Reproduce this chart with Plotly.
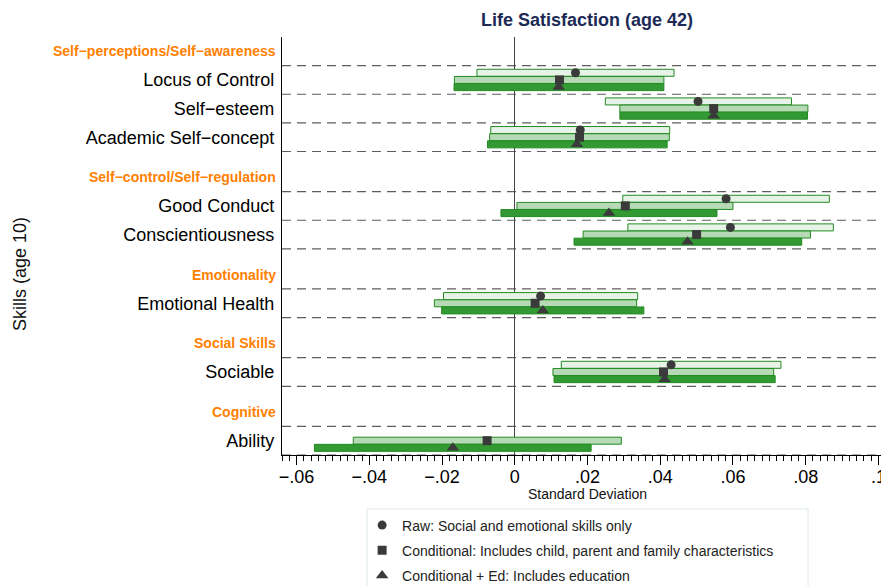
"""Life satisfaction at 42 vs. childhood skills: coefficient bars with CIs."""

import plotly.graph_objects as go

# --- data -------------------------------------------------------------------
groups = [
    "Self−perceptions/Self−awareness",
    "Self−control/Self−regulation",
    "Emotionality",
    "Social Skills",
    "Cognitive",
]
group_skills = [
    ["Locus of Control", "Self−esteem", "Academic Self−concept"],
    ["Good Conduct", "Conscientiousness"],
    ["Emotional Health"],
    ["Sociable"],
    ["Ability"],
]

# Raw model (no estimate for Ability)
raw_est = [0.0167, 0.0504, 0.0180, 0.0581, 0.0593, 0.0071, 0.0430, None]
raw_lo = [-0.0104, 0.0249, -0.0066, 0.0297, 0.0311, -0.0196, 0.0128, None]
raw_hi = [0.0438, 0.0761, 0.0426, 0.0865, 0.0876, 0.0338, 0.0732, None]

cond_est = [0.0123, 0.0547, 0.0178, 0.0304, 0.0500, 0.0056, 0.0409, -0.0076]
cond_lo = [-0.0166, 0.0289, -0.0069, 0.0006, 0.0188, -0.0221, 0.0105, -0.0444]
cond_hi = [0.0410, 0.0806, 0.0425, 0.0600, 0.0813, 0.0335, 0.0712, 0.0293]

ed_est = [0.0121, 0.0547, 0.0171, 0.0259, 0.0475, 0.0077, 0.0412, -0.0170]
ed_lo = [-0.0167, 0.0289, -0.0075, -0.0038, 0.0163, -0.0201, 0.0108, -0.0551]
ed_hi = [0.0410, 0.0805, 0.0419, 0.0556, 0.0789, 0.0355, 0.0716, 0.0210]

x_ticks = [-0.06, -0.04, -0.02, 0, 0.02, 0.04, 0.06, 0.08, 0.1]
x_tick_labels = ["−.06", "−.04", "−.02", "0", ".02", ".04", ".06", ".08", ".1"]

legend_names = [
    "Raw: Social and emotional skills only",
    "Conditional: Includes child, parent and family characteristics",
    "Conditional + Ed: Includes education",
]

# --- layout of rows (one unit per row, small gap between groups) -------------
GAP = 0.4
skills, skill_y, header_y, dividers = [], [], [], []
pos = 0.0
for gi, names in enumerate(group_skills):
    if gi > 0:
        pos += GAP
    header_y.append(pos + 0.5)
    pos += 1
    dividers.append(pos)
    for name in names:
        skills.append(name)
        skill_y.append(pos + 0.5)
        pos += 1
        dividers.append(pos)
y_bottom = pos

FONT = "Liberation Sans, Arial, Helvetica, sans-serif"
LINE_GREEN = "#228b22"
series = [
    (raw_est, raw_lo, raw_hi, -0.25, "#e8f3e8", "circle", legend_names[0]),
    (cond_est, cond_lo, cond_hi, 0.0, "#b5dab5", "square", legend_names[1]),
    (ed_est, ed_lo, ed_hi, 0.25, "#339a33", "triangle-up", legend_names[2]),
]

fig = go.Figure()

for est, lo, hi, off, fill, symbol, name in series:
    idx = [i for i in range(len(skills)) if est[i] is not None]
    fig.add_trace(go.Bar(
        y=[skill_y[i] + off for i in idx],
        x=[hi[i] - lo[i] for i in idx],
        base=[lo[i] for i in idx],
        orientation="h",
        width=0.245,
        marker=dict(color=fill, line=dict(color=LINE_GREEN, width=1)),
        showlegend=False,
        hoverinfo="skip",
    ))

for k, (est, lo, hi, off, fill, symbol, name) in enumerate(series):
    idx = [i for i in range(len(skills)) if est[i] is not None]
    fig.add_trace(go.Scatter(
        x=[est[i] for i in idx],
        y=[skill_y[i] + off for i in idx],
        mode="markers",
        marker=dict(symbol=symbol, size=9 if symbol != "triangle-up" else 11,
                    color="#3a3a3a"),
        name=name,
        legendgroup=f"g{k}",
    ))

shapes = []
for d in dividers:
    shapes.append(dict(
        type="line", xref="paper", x0=0, x1=1, yref="y", y0=d, y1=d,
        line=dict(color="#5e5e5e", width=1.2, dash="9px,6px"), layer="below",
    ))
# legend frame
shapes.append(dict(
    type="rect", xref="paper", yref="paper",
    x0=0.140, x1=0.8666, y0=-0.129, y1=-0.40,
    line=dict(color="#dde8ea", width=1), fillcolor="rgba(0,0,0,0)",
))

annotations = []
for g, gy in zip(groups, header_y):
    annotations.append(dict(
        text=f"<b>{g}</b>", xref="paper", x=0, xanchor="right", xshift=-4,
        yref="y", y=gy, yanchor="middle", showarrow=False,
        font=dict(family=FONT, size=14, color="#ff7f00"),
    ))
annotations += [
    dict(text="<b>Life Satisfaction (age 42)</b>", xref="paper", x=0.503,
         yref="paper", y=1.04, xanchor="center", yanchor="middle",
         showarrow=False, font=dict(family=FONT, size=18, color="#1c2a55")),
    dict(text="Skills (age 10)", xref="paper", x=-0.4316, yref="paper",
         y=0.433, xanchor="center", yanchor="middle", textangle=-90,
         showarrow=False, font=dict(family=FONT, size=18, color="#111")),
    dict(text="Standard Deviation", xref="paper", x=0.5038, yref="paper",
         y=-0.093, xanchor="center", yanchor="middle", showarrow=False,
         font=dict(family=FONT, size=14, color="#111")),
]

# the page body adds an 8px offset, so margins are shifted to compensate
fig.update_layout(
    template="none",
    width=889,
    height=586,
    margin=dict(l=274, r=8, t=29, b=139, autoexpand=False),
    paper_bgcolor="white",
    plot_bgcolor="white",
    barmode="overlay",
    font=dict(family=FONT, size=14, color="#111"),
    shapes=shapes,
    annotations=annotations,
    legend=dict(
        x=0.132, xanchor="left", y=-0.1304, yanchor="top",
        bgcolor="rgba(0,0,0,0)", borderwidth=0,
        font=dict(family=FONT, size=14, color="#222"),
        tracegroupgap=4,
    ),
    xaxis=dict(
        range=[-0.0640, 0.1029],
        tickvals=x_ticks,
        ticktext=x_tick_labels,
        ticks="outside",
        ticklen=9,
        tickwidth=1,
        tickcolor="black",
        ticklabelstandoff=-4,
        tickfont=dict(family=FONT, size=18, color="black"),
        minor=dict(ticks="outside", ticklen=5, tickwidth=1, tickcolor="black",
                   tick0=0, dtick=0.002, showgrid=False),
        showgrid=False,
        zeroline=True,
        zerolinecolor="#444",
        zerolinewidth=1,
        showline=True,
        linecolor="black",
        linewidth=1.3,
        automargin=False,
    ),
    yaxis=dict(
        range=[y_bottom, 0],
        tickvals=skill_y,
        ticktext=skills,
        ticks="",
        ticklabelstandoff=3,
        tickfont=dict(family=FONT, size=18, color="black"),
        showgrid=False,
        zeroline=False,
        showline=True,
        linecolor="black",
        linewidth=1.3,
        automargin=False,
    ),
)

fig.write_html("out.html")
